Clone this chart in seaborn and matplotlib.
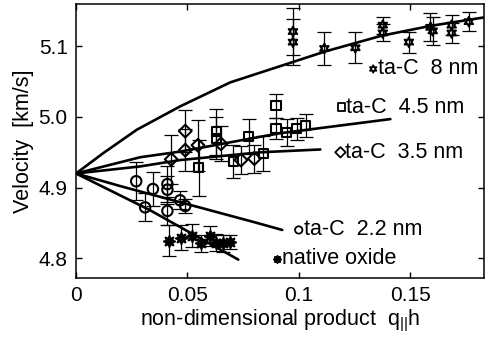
import numpy as np
import pandas as pd
import matplotlib
matplotlib.use("Agg")
import matplotlib.pyplot as plt
import seaborn as sns

# ---- data ----
# theory curves
c8_x = [0, 0.0123, 0.0273, 0.0467, 0.0692, 0.0916, 0.112, 0.137, 0.159, 0.183]
c8_y = [4.92, 4.949, 4.982, 5.015, 5.049, 5.072, 5.093, 5.115, 5.129, 5.141]
c45_x = [0, 0.0288, 0.0467, 0.0827, 0.0916, 0.141]
c45_y = [4.92, 4.943, 4.951, 4.972, 4.977, 4.997]
c35_x = [0, 0.0288, 0.0467, 0.0827, 0.1096]
c35_y = [4.92, 4.930, 4.939, 4.950, 4.954]
c22_x = [0, 0.02, 0.04, 0.06, 0.08, 0.0925]
c22_y = [4.92, 4.902, 4.885, 4.868, 4.851, 4.840]
cox_x = [0, 0.0332, 0.0728]
cox_y = [4.92, 4.868, 4.798]

# measured points
t8_x = [0.0973, 0.0973, 0.1114, 0.1253, 0.1376, 0.1376, 0.1493, 0.159, 0.160, 0.1685, 0.1685, 0.1762]
t8_y = [5.121, 5.106, 5.097, 5.098, 5.130, 5.119, 5.106, 5.127, 5.122, 5.130, 5.119, 5.135]
t8_e = [0.033, 0.033, 0.023, 0.022, 0.012, 0.012, 0.015, 0.02, 0.02, 0.014, 0.014, 0.013]

t45_x = [0.055, 0.063, 0.063, 0.0705, 0.0775, 0.084, 0.0897, 0.0897, 0.0946, 0.099, 0.103]
t45_y = [4.928, 4.979, 4.970, 4.937, 4.972, 4.948, 5.016, 4.984, 4.978, 4.983, 4.988]
t45_e = [0.04, 0.033, 0.03, 0.023, 0.025, 0.025, 0.017, 0.015, 0.019, 0.016, 0.016]

t35_x = [0.0427, 0.049, 0.049, 0.0547, 0.065, 0.074, 0.080]
t35_y = [4.940, 4.980, 4.953, 4.960, 4.962, 4.939, 4.941]
t35_e = [0.035, 0.03, 0.03, 0.036, 0.025, 0.02, 0.02]

t22_x = [0.027, 0.031, 0.0345, 0.041, 0.041, 0.041, 0.0467, 0.049]
t22_y = [4.909, 4.872, 4.898, 4.905, 4.897, 4.867, 4.882, 4.874]
t22_e = [0.027, 0.02, 0.024, 0.025, 0.02, 0.02, 0.013, 0.01]

ox_x = [0.0415, 0.047, 0.052, 0.056, 0.060, 0.063, 0.066, 0.069]
ox_y = [4.825, 4.829, 4.832, 4.821, 4.832, 4.822, 4.821, 4.823]
ox_e = [0.022, 0.018, 0.016, 0.012, 0.014, 0.012, 0.012, 0.010]

x_ticks = [0, 0.05, 0.1, 0.15]
x_ticklabels = ["0", "0.05", "0.1", "0.15"]
y_ticks = [4.8, 4.9, 5.0, 5.1]
y_ticklabels = ["4.8", "4.9", "5.0", "5.1"]

# ---- plotting ----
sns.set_theme(style="ticks")
plt.rcParams['font.family'] = ['Liberation Sans', 'DejaVu Sans']
plt.rcParams['mathtext.fontset'] = 'custom'
plt.rcParams['mathtext.rm'] = 'Liberation Sans'
plt.rcParams['mathtext.it'] = 'Liberation Sans'
plt.rcParams['text.color'] = 'black'
plt.rcParams['axes.labelcolor'] = 'black'
plt.rcParams['xtick.color'] = 'black'
plt.rcParams['ytick.color'] = 'black'

fig = plt.figure(figsize=(4.86, 3.44), dpi=100)
ax = fig.add_axes([0.1564, 0.1919, 0.8395, 0.7965])

curves = [(c8_x, c8_y), (c45_x, c45_y), (c35_x, c35_y), (c22_x, c22_y), (cox_x, cox_y)]
for cx, cy in curves:
    sns.lineplot(x=cx, y=cy, ax=ax, color="black", lw=1.9, sort=False,
                 estimator=None, legend=False)

star6 = (6, 1, 0)
star8 = (8, 1, 0)
series = [
    (t8_x, t8_y, t8_e, star6, 7, "none"),
    (t45_x, t45_y, t45_e, "s", 6.5, "none"),
    (t35_x, t35_y, t35_e, "D", 6.5, "none"),
    (t22_x, t22_y, t22_e, "o", 7.5, "none"),
    (ox_x, ox_y, ox_e, star8, 8, "black"),
]
for sx, sy, se, mk, ms, fc in series:
    ax.errorbar(sx, sy, yerr=se, fmt="none", ecolor="black", elinewidth=0.9,
                capsize=5, capthick=0.9, zorder=3)
    sns.scatterplot(x=sx, y=sy, ax=ax, marker=mk, s=ms ** 2,
                    facecolors=fc, edgecolor="black", linewidth=1.5,
                    zorder=4, legend=False)

# in-plot labels
labels = [
    (0.1333, 5.068, star6, "none", "ta-C  8 nm"),
    (0.1190, 5.014, "s", "none", "ta-C  4.5 nm"),
    (0.1186, 4.950, "D", "none", "ta-C  3.5 nm"),
    (0.0999, 4.840, "o", "none", "ta-C  2.2 nm"),
    (0.0901, 4.799, star8, "black", "native oxide"),
]
for lx, ly, mk, fc, txt in labels:
    ax.scatter([lx], [ly], marker=mk, s=28, facecolors=fc, edgecolors="black",
               linewidths=1.3, zorder=5)
    ax.text(lx + 0.0022, ly, txt, fontsize=15.5, va="center", ha="left",
            color="black")

ax.set_xlim(0, 0.183)
ax.set_ylim(4.772, 5.16)
ax.set_xticks(x_ticks)
ax.set_xticklabels(x_ticklabels)
ax.set_yticks(y_ticks)
ax.set_yticklabels(y_ticklabels)
ax.tick_params(direction="in", length=4, width=1, top=True, right=True,
               labelsize=15, colors="black", pad=6)
for sp in ax.spines.values():
    sp.set_visible(True)
    sp.set_color("black")
    sp.set_linewidth(1.1)

ax.set_xlabel(r"non-dimensional product  q$_{||}$h", fontsize=15.5, labelpad=2,
              color="black")
ax.set_ylabel("Velocity  [km/s]", fontsize=15.5, labelpad=3, color="black")

fig.savefig("out.png", dpi=100)
